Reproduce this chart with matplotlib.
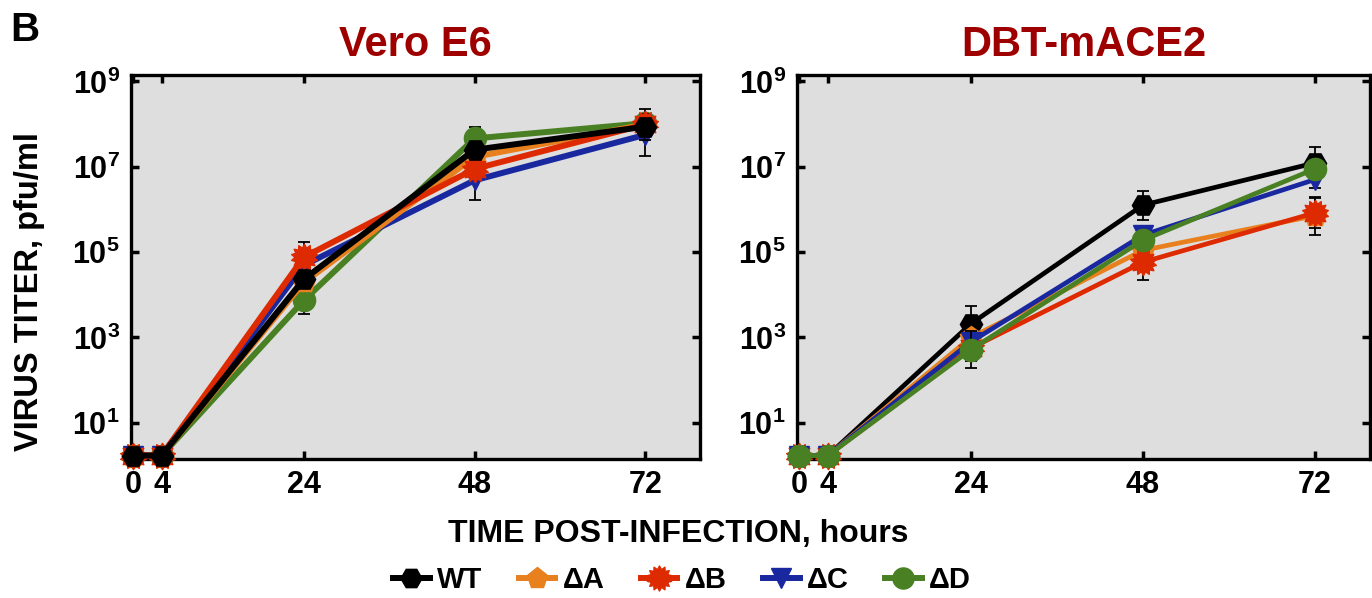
import numpy as np
import matplotlib
matplotlib.use('Agg')
import matplotlib.pyplot as plt
from matplotlib.ticker import FixedLocator, NullLocator, FixedFormatter
from matplotlib.path import Path

plt.rcParams['font.family'] = ['Liberation Sans', 'DejaVu Sans']
plt.rcParams['font.weight'] = 'bold'
plt.rcParams['mathtext.fontset'] = 'custom'
plt.rcParams['mathtext.rm'] = 'Liberation Sans:bold'
plt.rcParams['mathtext.it'] = 'Liberation Sans:bold'
plt.rcParams['mathtext.bf'] = 'Liberation Sans:bold'

# ---------------- data ----------------
hours = [0, 4, 24, 48, 72]
series_names = ['WT', 'ΔA', 'ΔB', 'ΔC', 'ΔD']
panel_titles = ['Vero E6', 'DBT-mACE2']
ytick_vals = [1e1, 1e3, 1e5, 1e7, 1e9]
ytick_labels = ['$10^{1}$', '$10^{3}$', '$10^{5}$', '$10^{7}$', '$10^{9}$']

# Vero E6 titers (pfu/ml)
vero_wt = [1.7, 1.7, 2.3e4, 2.5e7, 8.7e7]
vero_dA = [1.7, 1.7, 1.95e4, 1.7e7, 9.8e7]
vero_dB = [1.7, 1.7, 7.6e4, 8.9e6, 9.8e7]
vero_dC = [1.7, 1.7, 4.9e4, 4.8e6, 5.6e7]
vero_dD = [1.7, 1.7, 7.4e3, 4.6e7, 1.05e8]

# DBT-mACE2 titers (pfu/ml)
dbt_wt = [1.7, 1.7, 2.1e3, 1.26e6, 1.23e7]
dbt_dA = [1.7, 1.7, 1.0e3, 1.1e5, 7.1e5]
dbt_dB = [1.7, 1.7, 5.6e2, 5.8e4, 8.3e5]
dbt_dC = [1.7, 1.7, 7.9e2, 2.5e5, 5.0e6]
dbt_dD = [1.7, 1.7, 5.2e2, 1.9e5, 8.9e6]

# error half-widths in log10 units
vero_err_wt = [0, 0, 0.15, 0.15, 0.12]
vero_err_dA = [0, 0, 0.20, 0.12, 0.12]
vero_err_dB = [0, 0, 0.36, 0.12, 0.37]
vero_err_dC = [0, 0, 0.15, 0.45, 0.49]
vero_err_dD = [0, 0, 0.31, 0.28, 0.10]

dbt_err_wt = [0, 0, 0.42, 0.34, 0.38]
dbt_err_dA = [0, 0, 0.30, 0.30, 0.45]
dbt_err_dB = [0, 0, 0.30, 0.42, 0.35]
dbt_err_dC = [0, 0, 0.20, 0.15, 0.20]
dbt_err_dD = [0, 0, 0.43, 0.20, 0.10]

# ---------------- styles ----------------
def sunburst(n=14, inner=0.72):
    ang = np.linspace(0, 2 * np.pi, 2 * n, endpoint=False) + np.pi / 2
    r = np.where(np.arange(2 * n) % 2 == 0, 1.0, inner)
    verts = np.column_stack([r * np.cos(ang), r * np.sin(ang)])
    verts = np.vstack([verts, verts[:1]])
    codes = [Path.MOVETO] + [Path.LINETO] * (2 * n - 1) + [Path.CLOSEPOLY]
    return Path(verts, codes)

colors = ['#000000', '#E8801E', '#DE2A00', '#1A28A0', '#4A8024']
markers = ['H', 'p', sunburst(), 'v', 'o']
msizes = [16, 16, 19, 15, 16]

panels = [
    ([vero_wt, vero_dA, vero_dB, vero_dC, vero_dD],
     [vero_err_wt, vero_err_dA, vero_err_dB, vero_err_dC, vero_err_dD],
     [5, 3, 4, 2, 1], 4.3),
    ([dbt_wt, dbt_dA, dbt_dB, dbt_dC, dbt_dD],
     [dbt_err_wt, dbt_err_dA, dbt_err_dB, dbt_err_dC, dbt_err_dD],
     [1, 2, 3, 4, 5], 3.4),
]

fig = plt.figure(figsize=(13.72, 5.98), dpi=100)
ax_rects = [[131/1372, 1-459/598, 569/1372, 384/598],
            [797/1372, 1-459/598, 573/1372, 384/598]]

handles = None
for p, (rect, (vals, errs, zorders, lw)) in enumerate(zip(ax_rects, panels)):
    ax = fig.add_axes(rect)
    ax.set_facecolor('#DEDEDE')
    ax.set_yscale('log')
    hs = []
    for i in range(5):
        y = np.array(vals[i], dtype=float)
        e = np.array(errs[i], dtype=float)
        lo = y - y / 10**e
        hi = y * 10**e - y
        mask = e > 0
        x = np.array(hours, dtype=float)
        ax.errorbar(x[mask], y[mask], yerr=[lo[mask], hi[mask]], fmt='none',
                    ecolor='black', elinewidth=1.3, capsize=4, capthick=1.3,
                    zorder=zorders[i] * 2)
        h, = ax.plot(hours, vals[i], color=colors[i], lw=lw, marker=markers[i],
                     ms=msizes[i], mec=colors[i], mfc=colors[i],
                     zorder=zorders[i] * 2 + 1, label=series_names[i],
                     clip_on=False)
        hs.append(h)
    if handles is None:
        handles = hs
    ax.set_xlim(-0.3, 79.7)
    ax.set_ylim(10**0.15, 10**9.15)
    ax.set_xticks(hours)
    ax.set_xticklabels([str(h) for h in hours])
    ax.yaxis.set_major_locator(FixedLocator(ytick_vals))
    ax.yaxis.set_major_formatter(FixedFormatter(ytick_labels))
    ax.yaxis.set_minor_locator(NullLocator())
    ax.tick_params(axis='both', which='major', direction='in', length=6,
                   width=2.5, top=True, right=True, labelsize=22, pad=8)
    for sp in ax.spines.values():
        sp.set_linewidth(2.4)
        sp.set_color('black')
    ax.set_title(panel_titles[p], fontsize=30, fontweight='bold',
                 color='#9E0000', pad=14)

fig.text(10/1372, 1-30/598, 'B', fontsize=29, fontweight='bold', va='center',
         ha='left')
fig.text(30/1372, 1-292/598, 'VIRUS TITER, pfu/ml', fontsize=23.5,
         fontweight='bold', rotation=90, va='center', ha='center')
fig.text(678/1372, 1-534/598, 'TIME POST-INFECTION, hours', fontsize=23,
         fontweight='bold', va='center', ha='center')

fig.legend(handles=handles, labels=series_names, loc='center',
           bbox_to_anchor=(682/1372, 1-580/598), ncol=5, frameon=False,
           prop={'size': 21, 'weight': 'bold'}, handlelength=1.25,
           columnspacing=1.25, handletextpad=0.25, markerscale=0.95,
           borderpad=0.1)

fig.savefig('out.png', dpi=100)
